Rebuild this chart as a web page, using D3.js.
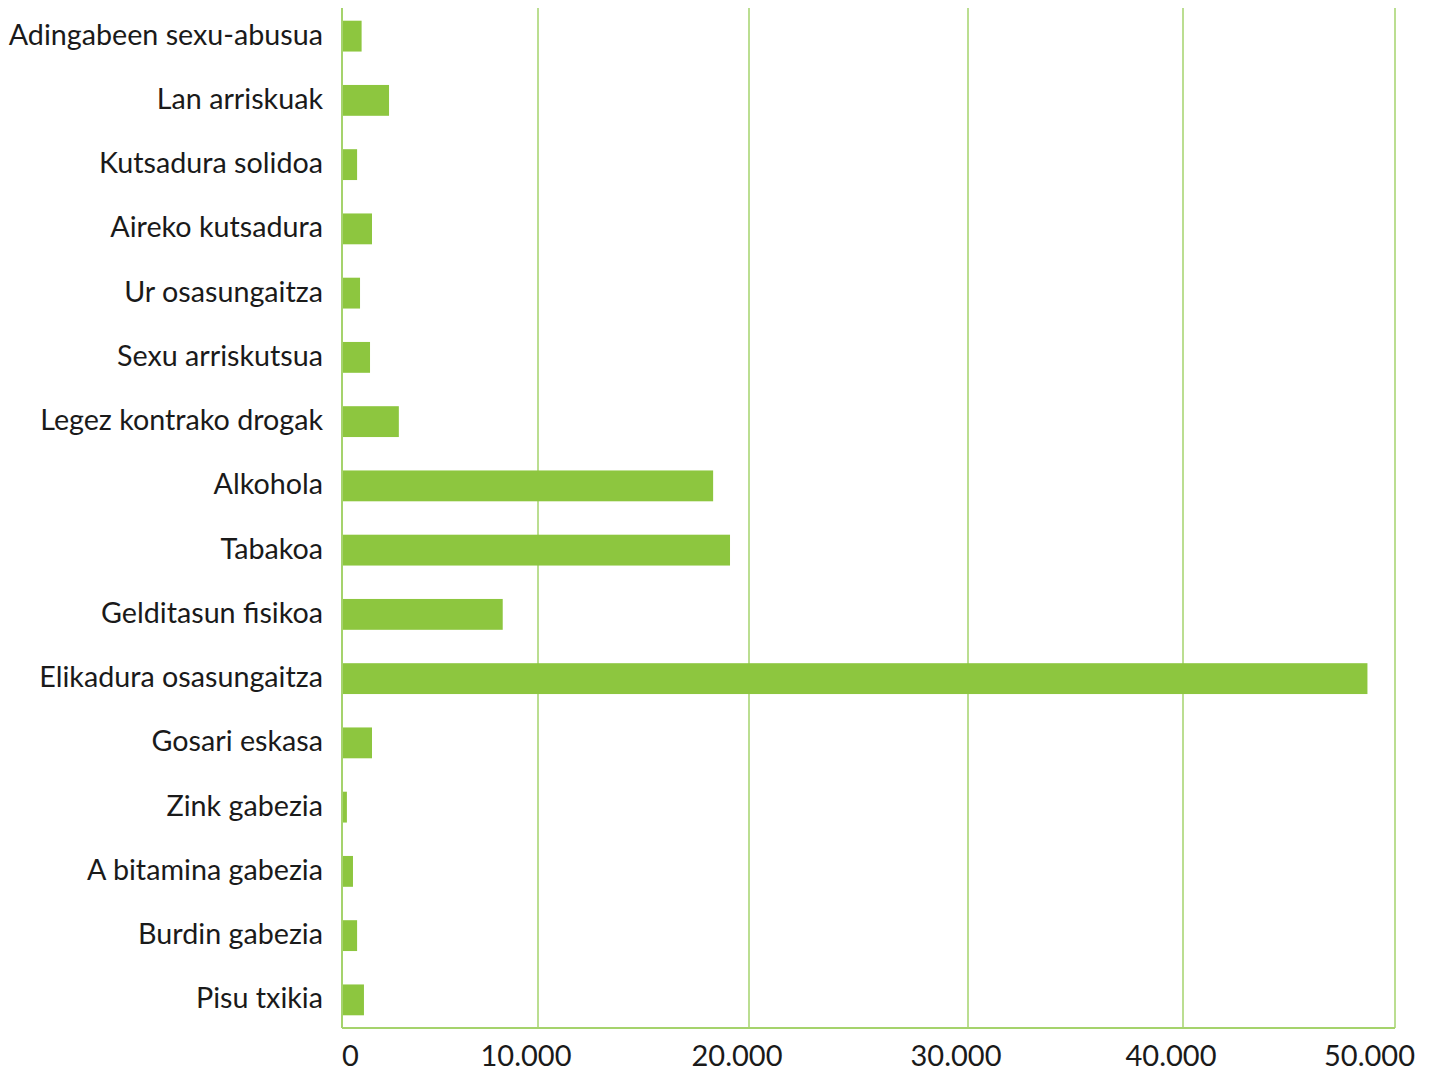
<!DOCTYPE html>
<html>
<head>
<meta charset="utf-8">
<script src="https://cdn.jsdelivr.net/npm/d3@7"></script>
<style>
  body { margin: 0; background: #fff; }
  text { font-family: Lato, "Open Sans", sans-serif; fill: #1a1a1a; }
</style>
</head>
<body>
<div id="chart"></div>
<script>
const categories = [
    "Adingabeen sexu-abusua", "Lan arriskuak", "Kutsadura solidoa", "Aireko kutsadura",
    "Ur osasungaitza", "Sexu arriskutsua", "Legez kontrako drogak", "Alkohola",
    "Tabakoa", "Gelditasun fisikoa", "Elikadura osasungaitza", "Gosari eskasa",
    "Zink gabezia", "A bitamina gabezia", "Burdin gabezia", "Pisu txikia"
];
const values = [1000, 2400, 770, 1530, 920, 1430, 2900, 18300,
    19100, 8200, 48700, 1530, 250, 560, 770, 1120];
const ticks = [0, 10000, 20000, 30000, 40000, 50000];
const tickLabels = ["0", "10.000", "20.000", "30.000", "40.000", "50.000"];

const w = 1434, h = 1071;
const barColor = "#8dc63f";
const lineColor = "#a5d36c";

const svg = d3.select('#chart')
    .append('svg')
    .attr('width', w)
    .attr('height', h);

// the source image has slightly uneven gridline spacing
const xScale = d3.scaleLinear()
    .domain(ticks)
    .range([342, 538, 749, 968, 1183, 1395]);

const yScale = d3.scaleBand()
    .domain(categories)
    .range([4, 1032])
    .paddingInner(0.52)
    .paddingOuter(0.26);

const plotTop = 8, plotBottom = 1028;

// gridlines
svg.append('g')
    .selectAll('line')
    .data(ticks.slice(1))
    .enter()
    .append('line')
    .attr('x1', d => xScale(d))
    .attr('x2', d => xScale(d))
    .attr('y1', plotTop)
    .attr('y2', plotBottom)
    .attr('stroke', lineColor)
    .attr('stroke-width', 1.5);

// bars
svg.selectAll('rect.bar')
    .data(values)
    .enter()
    .append('rect')
    .attr('class', 'bar')
    .attr('x', xScale(0))
    .attr('y', (d, i) => yScale(categories[i]))
    .attr('width', d => xScale(d) - xScale(0))
    .attr('height', yScale.bandwidth())
    .attr('fill', barColor);

// axis lines
svg.append('line')
    .attr('x1', xScale(0)).attr('x2', xScale(0))
    .attr('y1', plotTop).attr('y2', plotBottom)
    .attr('stroke', lineColor).attr('stroke-width', 2);
svg.append('line')
    .attr('x1', xScale(0)).attr('x2', xScale(50000))
    .attr('y1', plotBottom).attr('y2', plotBottom)
    .attr('stroke', lineColor).attr('stroke-width', 2);

// category labels
svg.append('g')
    .selectAll('text')
    .data(categories)
    .enter()
    .append('text')
    .attr('x', 323)
    .attr('y', d => yScale(d) + yScale.bandwidth() / 2)
    .attr('dy', '0.3em')
    .attr('text-anchor', 'end')
    .attr('font-size', 28.7)
    .text(d => d);

// tick labels
svg.append('g')
    .selectAll('text')
    .data(ticks)
    .enter()
    .append('text')
    .attr('x', (d, i) => i === 0 ? xScale(d) : (i === ticks.length - 1 ? xScale(d) + 20 : xScale(d) - 12))
    .attr('y', 1066)
    .attr('text-anchor', (d, i) => i === 0 ? 'start' : (i === ticks.length - 1 ? 'end' : 'middle'))
    .attr('font-size', 29)
    .text((d, i) => tickLabels[i]);
</script>
</body>
</html>
